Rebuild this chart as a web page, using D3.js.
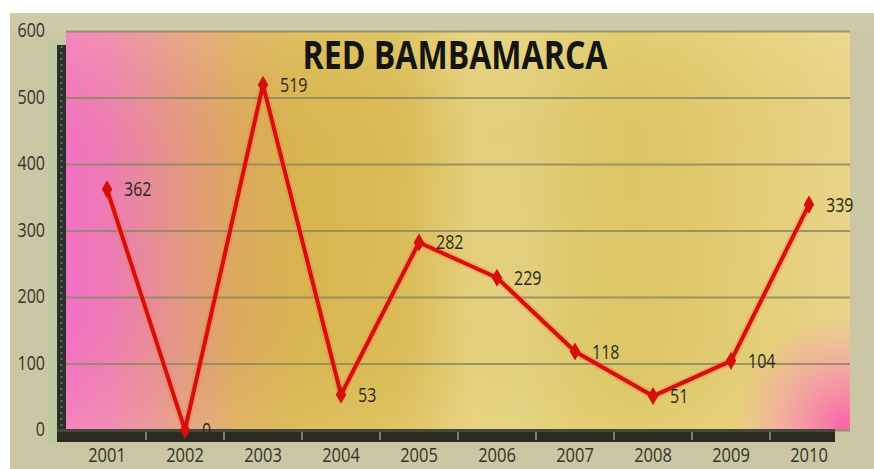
<!DOCTYPE html>
<html>
<head>
<meta charset="utf-8">
<script src="https://cdn.jsdelivr.net/npm/d3@7"></script>
<style>
  html, body { margin: 0; padding: 0; background: #ffffff; }
  svg { display: block; }
  text { font-family: "Open Sans", "DejaVu Sans", sans-serif; }
</style>
</head>
<body>
<svg id="chart" width="874" height="469"></svg>
<script>
// Series: yearly values for RED BAMBAMARCA
const years = ["2001", "2002", "2003", "2004", "2005", "2006", "2007", "2008", "2009", "2010"];
const values = [362, 0, 519, 53, 282, 229, 118, 51, 104, 339];
const yTicks = [0, 100, 200, 300, 400, 500, 600];
const title = "RED BAMBAMARCA";

const W = 874, H = 469;
const plot = { left: 66, right: 850, top: 31, bottom: 430 };

const svg = d3.select("#chart");
const defs = svg.append("defs");

const x = d3.scaleBand().domain(years).range([68, 848]);
const y = d3.scaleLinear().domain([0, 600]).range([plot.bottom, plot.top]);
const cx = d => x(d) + x.bandwidth() / 2;

// Outer chart frame
svg.append("rect").attr("x", 10).attr("y", 13).attr("width", W - 10).attr("height", H - 13)
  .attr("fill", "#cbc6a3");
svg.append("rect").attr("x", 10).attr("y", 13).attr("width", W - 10).attr("height", 18)
  .attr("fill", "#cfcba8");
svg.append("rect").attr("x", 48).attr("y", 40).attr("width", 10).attr("height", 402)
  .attr("fill", "#bccaa2");

// Plot background: pink to gold horizontal sweep
const bg = defs.append("linearGradient").attr("id", "bg").attr("x1", 0).attr("x2", 1).attr("y1", 0).attr("y2", 0);
[[0, "#f66ccd"], [0.06, "#f07aba"], [0.14, "#e6948a"], [0.22, "#ddaa5e"], [0.3, "#d9b650"],
 [0.42, "#dbbd58"], [0.5, "#e0c86e"], [0.58, "#e4d282"], [0.66, "#ddc866"], [0.78, "#dfc86a"],
 [0.9, "#e4ce76"], [1, "#e8d286"]]
  .forEach(([o, c]) => bg.append("stop").attr("offset", o).attr("stop-color", c));

const pinkBR = defs.append("radialGradient").attr("id", "pinkBR")
  .attr("gradientUnits", "userSpaceOnUse").attr("cx", 845).attr("cy", 425).attr("r", 110);
pinkBR.append("stop").attr("offset", 0).attr("stop-color", "#fb62a8").attr("stop-opacity", 1);
pinkBR.append("stop").attr("offset", 0.55).attr("stop-color", "#f890b0").attr("stop-opacity", 0.6);
pinkBR.append("stop").attr("offset", 1).attr("stop-color", "#f8a0b0").attr("stop-opacity", 0);

const sheen = defs.append("linearGradient").attr("id", "sheen").attr("x1", 0).attr("x2", 1).attr("y1", 0).attr("y2", 0);
[[0, 0], [0.45, 0], [0.52, 0.15], [0.58, 0], [0.66, 0.06], [0.72, 0], [0.9, 0.08], [1, 0.12]]
  .forEach(([o, a]) => sheen.append("stop").attr("offset", o).attr("stop-color", "#fff6c8").attr("stop-opacity", a));

const vshade = defs.append("linearGradient").attr("id", "vshade").attr("x1", 0).attr("x2", 0).attr("y1", 0).attr("y2", 1);
[[0, "#f0e090", 0.25], [0.3, "#c8a040", 0.08], [0.7, "#c8a040", 0.05], [1, "#f0e090", 0.2]]
  .forEach(([o, c, a]) => vshade.append("stop").attr("offset", o).attr("stop-color", c).attr("stop-opacity", a));

const pw = plot.right - plot.left, ph = plot.bottom - plot.top;
svg.append("rect").attr("x", plot.left).attr("y", plot.top).attr("width", pw).attr("height", ph).attr("fill", "url(#bg)");
svg.append("rect").attr("x", plot.left).attr("y", plot.top).attr("width", pw).attr("height", ph).attr("fill", "url(#vshade)");
svg.append("rect").attr("x", plot.left).attr("y", plot.top).attr("width", pw).attr("height", ph).attr("fill", "url(#sheen)");
svg.append("rect").attr("x", plot.left).attr("y", plot.top).attr("width", pw).attr("height", ph).attr("fill", "url(#pinkBR)");

// Horizontal gridlines
const grid = svg.append("g").attr("transform", `translate(${plot.left},0)`)
  .call(d3.axisLeft(y).tickValues(yTicks).tickSize(-pw).tickFormat(""));
grid.select(".domain").remove();
grid.selectAll("line").attr("stroke", "#8e8964").attr("stroke-width", 2).attr("opacity", 0.85);

// Side wall and floor of the 3-D frame
svg.append("rect").attr("x", 57).attr("y", 45).attr("width", 9).attr("height", 397).attr("fill", "#2c302a");
svg.append("line").attr("x1", 61.5).attr("x2", 61.5).attr("y1", 46).attr("y2", 440)
  .attr("stroke", "#5d6e60").attr("stroke-width", 2).attr("stroke-dasharray", "2,4");
svg.append("rect").attr("x", 57).attr("y", 429).attr("width", 778).attr("height", 13).attr("fill", "#2b2b24");
svg.append("rect").attr("x", 57).attr("y", 429).attr("width", 778).attr("height", 3).attr("fill", "#46463a");
svg.selectAll("line.floortick").data(years.slice(1)).join("line").attr("class", "floortick")
  .attr("x1", d => x(d)).attr("x2", d => x(d)).attr("y1", 432).attr("y2", 440)
  .attr("stroke", "#9a9a8c").attr("stroke-width", 1.5);

// Y axis labels
const yAx = svg.append("g").attr("transform", "translate(45,0)")
  .call(d3.axisLeft(y).tickValues(yTicks).tickSize(0).tickPadding(0));
yAx.select(".domain").remove();
yAx.selectAll("text").attr("x", null).attr("dy", null).attr("y", null)
  .attr("transform", "translate(0,5.5) scale(1,1.2)")
  .attr("font-size", 16).attr("fill", "#34342a").attr("text-anchor", "end")
  .attr("font-family", "'Open Sans', sans-serif");

// X axis labels
const xAx = svg.append("g").attr("transform", "translate(0,462)")
  .call(d3.axisBottom(x).tickSize(0).tickPadding(0));
xAx.select(".domain").remove();
xAx.selectAll("text").attr("y", null).attr("dy", null)
  .attr("transform", "scale(1,1.18)")
  .attr("font-size", 16.5).attr("fill", "#34342a")
  .attr("font-family", "'Open Sans', sans-serif");

// Title
svg.append("text").attr("transform", "translate(455,69) scale(1,1.22)")
  .attr("text-anchor", "middle").attr("font-weight", 700).attr("font-size", 32)
  .attr("textLength", 305).attr("lengthAdjust", "spacingAndGlyphs")
  .attr("fill", "#141410").text(title);

// Data line
const pts = years.map((d, i) => [cx(d), y(values[i])]);
const line = d3.line();
svg.append("path").attr("d", line(pts)).attr("fill", "none")
  .attr("stroke", "#ff6a40").attr("stroke-opacity", 0.3).attr("stroke-width", 8)
  .attr("stroke-linejoin", "round");
svg.append("path").attr("d", line(pts)).attr("fill", "none")
  .attr("stroke", "#d50f0a").attr("stroke-width", 4).attr("stroke-linejoin", "round");

// Markers
svg.selectAll("path.marker").data(pts).join("path").attr("class", "marker")
  .attr("d", d3.symbol(d3.symbolDiamond).size(95))
  .attr("transform", d => `translate(${d[0]},${d[1]})`)
  .attr("fill", "#d50f0a");

// Value labels
svg.selectAll("text.val").data(values).join("text").attr("class", "val")
  .attr("transform", (v, i) => `translate(${cx(years[i]) + 17},${y(v) + 7}) scale(1,1.2)`)
  .attr("font-size", 16).attr("fill", "#2a2a1c")
  .text(v => v);
</script>
</body>
</html>
